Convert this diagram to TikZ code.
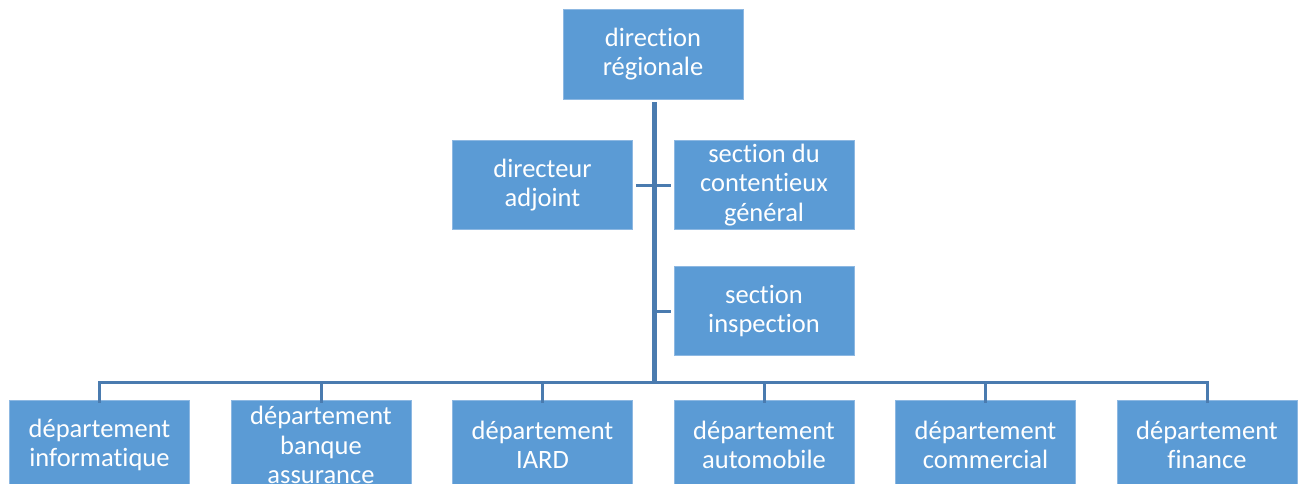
\documentclass[tikz,border=0pt]{standalone}
\usepackage{fontspec}
\setmainfont{Carlito}[RawFeature={-liga}]
\definecolor{boxblue}{HTML}{5B9BD5}
\definecolor{boxedge}{HTML}{8DB8E2}
\definecolor{linkblue}{HTML}{4A7BAF}
\begin{document}
\begin{tikzpicture}[x=1pt,y=-1pt,
  orgbox/.style={rectangle, fill=boxblue, draw=boxedge, line width=0.8pt,
    minimum width=180pt, minimum height=89pt, inner sep=0pt,
    text=white, align=center, font=\fontsize{26.5}{29.5}\selectfont},
  link/.style={draw=linkblue, line width=3pt},
  trunk/.style={draw=linkblue, line width=5pt}]
\useasboundingbox (0,0) rectangle (1303,484);
\clip (0,0) rectangle (1303,484);
\node[orgbox, minimum height=90pt] (root) at (653,54) {direction\\régionale};
\node[orgbox] (adj) at (542.5,185) {directeur\\adjoint};
\node[orgbox] (cont) at (764,185) {section du\\contentieux\\général};
\node[orgbox] (insp) at (764,311) {section\\inspection};
\node[orgbox, minimum height=90pt] (d1) at (99.5,445) {département\\informatique};
\node[orgbox, minimum height=90pt] (d2) at (321,445) {département\\banque\\assurance};
\node[orgbox, minimum height=90pt] (d3) at (542.5,445) {département\\IARD};
\node[orgbox, minimum height=90pt] (d4) at (764,445) {département\\automobile};
\node[orgbox, minimum height=90pt] (d5) at (985.5,445) {département\\commercial};
\node[orgbox, minimum height=90pt] (d6) at (1207,445) {département\\finance};
\coordinate (hub) at (654,382);
\coordinate (left) at (99.5,382);
\coordinate (right) at (1207,382);
\draw[trunk] ([xshift=1pt,yshift=-3pt]root.south) -- ([yshift=1.5pt]hub);
\draw[link] ([xshift=3pt]adj.east) -- ([xshift=-3pt]cont.west);
\draw[link] (654,311) -- ([xshift=-3pt]insp.west);
\draw[link] ([xshift=-1.5pt]left) -- ([xshift=1.5pt]right);
\foreach \d in {d1,d2,d3,d4,d5,d6} {
  \draw[link] (\d.north |- hub) -- ([yshift=-3pt]\d.north);
}
\end{tikzpicture}
\end{document}
